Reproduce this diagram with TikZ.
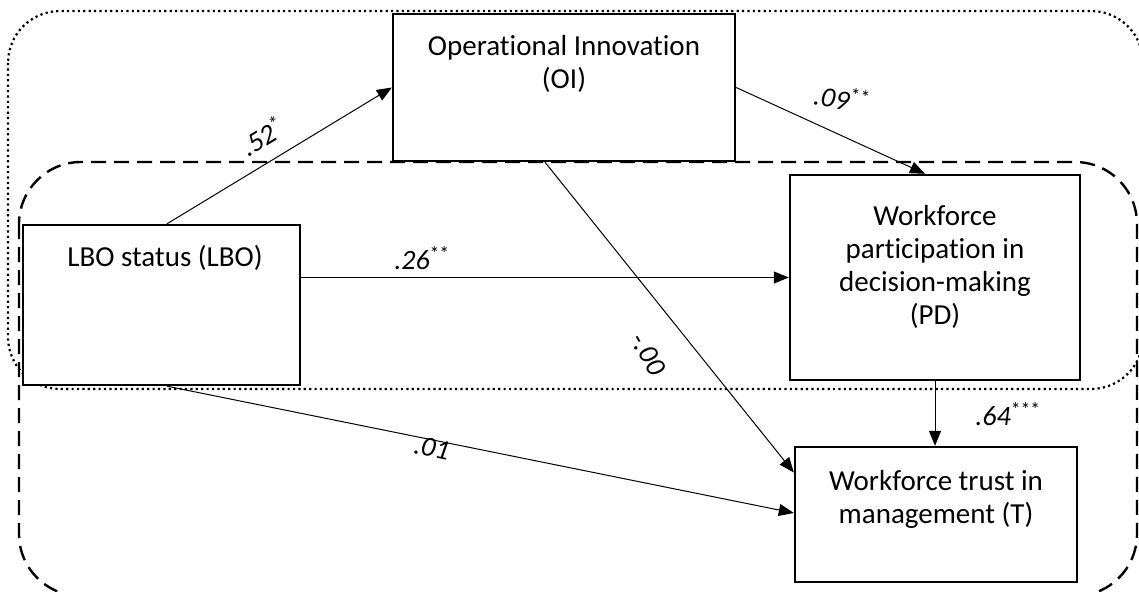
\documentclass[tikz,border=0pt]{standalone}
\usepackage{fontspec}
\setmainfont{Carlito}[Ligatures={NoCommon,NoRare}]
\usetikzlibrary{arrows.meta,calc}
\begin{document}
\begin{tikzpicture}[x=1pt,y=-1pt,
  box/.style={draw, line width=2.4pt, fill=white, inner sep=0pt},
  txt/.style={font=\fontsize{29}{33}\selectfont, align=center, inner sep=0pt},
  coef/.style={font=\fontsize{28}{30}\selectfont\itshape, inner sep=0pt},
  path/.style={line width=1pt, -{Triangle[length=15pt,width=12pt]}},
  dotframe/.style={line width=2.2pt, dash pattern=on 2.2pt off 3.2pt, rounded corners=52pt},
  dashframe/.style={line width=2.4pt, dash pattern=on 15pt off 8pt, rounded corners=62pt}]
\useasboundingbox (0,0) rectangle (1139,591);

% grouping frames
\draw[dotframe] (8,11) rectangle (1143,389);
\draw[dashframe] (19,162) rectangle (1137,596);

% variable boxes
\node[box, minimum width=342pt, minimum height=147pt] (oi) at (564,87.5) {};
\node[box, minimum width=277pt, minimum height=160pt] (lbo) at (161.5,305) {};
\node[box, minimum width=290pt, minimum height=205pt] (pd) at (935,277.5) {};
\node[box, minimum width=282pt, minimum height=135pt] (t) at (936,514.5) {};

\node[txt] (oitxt) at (564,64) {Operational Innovation\\(OI)};
\node[txt] (lbotxt) at (165,258) {LBO status (LBO)};
\node[txt] (pdtxt) at (935,266.5) {Workforce\\participation in\\decision-making\\(PD)};
\node[txt] (ttxt) at (936,499) {Workforce trust in\\management (T)};

% structural paths
\draw[path] ([xshift=5.5pt]lbo.north) -- (oi.west);
\draw[path] (oi.east) -- ([xshift=-10pt]pd.north);
\draw[path] (lbo.east |- pd.west) -- (pd.west);
\draw[path] ([xshift=-19pt]oi.south) -- ([yshift=42pt]t.west);
\draw[path] ([xshift=5.5pt]lbo.south) -- ([yshift=1.5pt]t.west);
\draw[path] (pd.south) -- (pd.south |- t.north);

% path coefficients
\node[coef, rotate=31] (c1) at (262,136) {.52\textsuperscript{\normalfont *}};
\node[coef, rotate=-10] (c2) at (842,98) {.09\textsuperscript{\normalfont **}};
\node[coef] (c3) at (422,258) {.26\textsuperscript{\normalfont **}};
\node[coef, rotate=-60] (c4) at (648,354) {-.00};
\node[coef, rotate=-12] (c5) at (432,448) {.01};
\node[coef] (c6) at (1008,414) {.64\textsuperscript{\normalfont ***}};
\end{tikzpicture}
\end{document}
